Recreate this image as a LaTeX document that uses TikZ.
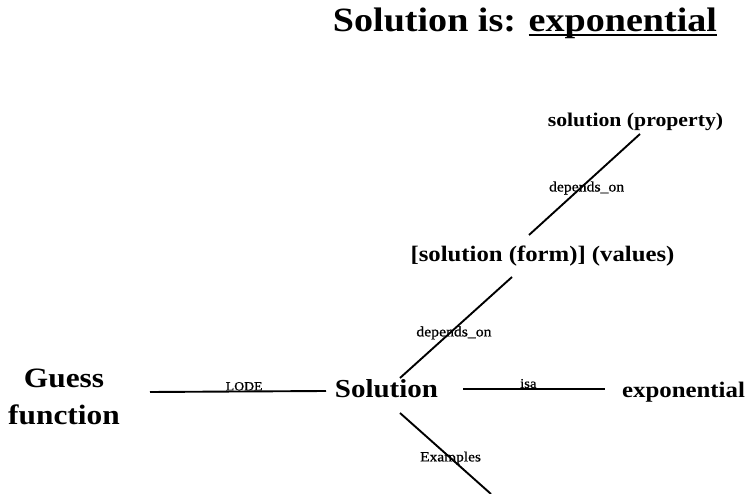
\documentclass[tikz,border=0pt]{standalone}
\usepackage{fontspec}
\setmainfont[FakeStretch=1.12]{Liberation Serif}
\newfontfamily\labfont[FakeStretch=1.1,FakeBold=0.8]{Liberation Serif}
\usetikzlibrary{calc}
\newcommand\myul[1]{\setbox0\hbox{#1}\rlap{\vrule height -2pt depth 4.5pt width \wd0}\box0}
\tikzset{
  concept/.style={font=\bfseries\fontsize{#1}{#1}\selectfont, inner sep=0pt},
  lab/.style={font=\labfont\fontsize{#1}{#1}\selectfont, inner sep=0pt},
  link/.style={line width=1.9pt}
}
\begin{document}
\begin{tikzpicture}[x=1pt,y=-1pt]
\useasboundingbox (0,0) rectangle (748,494);
\node[concept=34, anchor=base] (title) at (525,32) {Solution is: \myul{exponential}};
\node[concept=19.4, anchor=base] (prop) at (635.5,127) {solution (property)};
\node[concept=22.1, anchor=base] (form) at (542.5,262) {[solution (form)] (values)};
\node[concept=25.9, anchor=base] (sol) at (386.5,398) {Solution};
\node[concept=22.2, anchor=base] (expo) at (683.5,398) {exponential};
\node[inner sep=0pt, align=center, font=\bfseries\fontsize{28}{37}\selectfont] (guess) at (64,397) {Guess\\function};
\coordinate (exend) at (491,494);
\draw[link] ($(guess.center)+(86,-5)$) -- node[lab=12.5, pos=0.535, anchor=south] (lode) {LODE} ($(sol.base)+(-60.5,-7)$);
\draw[link] ($(sol.base)+(76.5,-9)$) -- node[lab=13.4, pos=0.46, anchor=south] (isa) {isa} ($(expo.base)+(-78.5,-9)$);
\draw[link] ($(prop.base)+(4.5,7)$) -- node[lab=14.3, pos=0.535, xshift=6] (dep1) {depends\_on} ($(form.base)+(-13.5,-27)$);
\draw[link] ($(form.base)+(-30.5,15)$) -- node[lab=14.3, pos=0.554, xshift=4] (dep2) {depends\_on} ($(sol.base)+(13.5,-20)$);
\draw[link] ($(sol.base)+(13.5,15)$) -- node[lab=14, pos=0.556] (exl) {Examples} (exend);
\end{tikzpicture}
\end{document}
